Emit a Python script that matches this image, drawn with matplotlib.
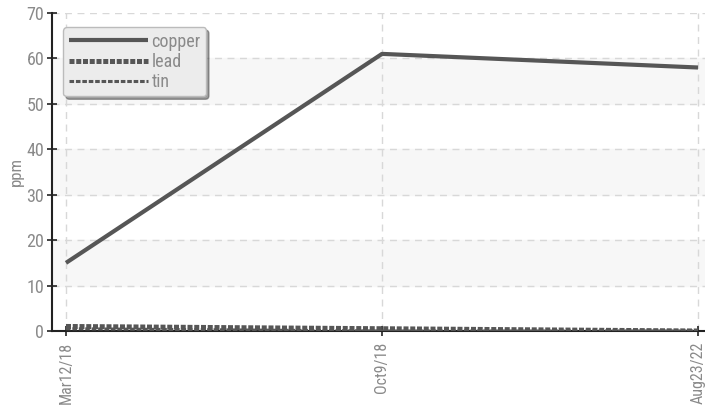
import matplotlib
matplotlib.use("Agg")
import matplotlib.pyplot as plt
from matplotlib import font_manager

dates = ["Mar12/18", "Oct9/18", "Aug23/22"]
copper = [15, 61, 58]
lead = [1, 0.5, 0]
tin = [0.5, 0, 0]

names = [f.name for f in font_manager.fontManager.ttflist]
fam = "Roboto Condensed" if "Roboto Condensed" in names else "Roboto"
plt.rcParams['font.family'] = [fam, 'DejaVu Sans']

txt = '#8a8a8a'
line_c = '#565656'

fig = plt.figure(figsize=(7.05, 4.13), dpi=100)
ax = fig.add_axes([52/705, 1 - 331/413, 1 - 52/705, (331 - 13)/413])

x = list(range(len(dates)))

# alternating bands
for lo in (10, 30, 50):
    ax.axhspan(lo, lo + 10, color='#f7f7f7', zorder=0)

ax.plot(x, copper, color=line_c, lw=3.0, solid_capstyle='butt', label='copper', zorder=3)
ax.plot(x, lead, color=line_c, lw=3.6, linestyle=(0, (1.0, 0.35)), label='lead', zorder=3)
ax.plot(x, tin, color=line_c, lw=2.2, linestyle=(0, (1.5, 0.6)), label='tin', zorder=3)

ax.set_xlim(-14/316, 2 + 7/316)
ax.set_ylim(0, 70)
ax.set_yticks(range(0, 71, 10))
ax.set_xticks(x)
ax.set_xticklabels(dates, rotation=90)

ax.grid(True, color='#d8d8d8', linestyle=(0, (5, 4)), lw=1)
ax.set_axisbelow(True)

for s in ('top', 'right'):
    ax.spines[s].set_visible(False)
ax.spines['left'].set_color('#222222')
ax.spines['bottom'].set_color('#222222')
ax.spines['left'].set_linewidth(1.5)
ax.spines['bottom'].set_linewidth(1.5)

ax.tick_params(axis='both', direction='inout', length=7, width=1.2, color='#222222',
               labelcolor=txt, labelsize=13)
ax.tick_params(axis='y', pad=2)
ax.tick_params(axis='x', pad=4, labelsize=11.5)

ax.set_ylabel('ppm', color=txt, fontsize=12, labelpad=2)

leg = ax.legend(loc='upper left', bbox_to_anchor=(0.017, 0.955), handlelength=4.4,
                handletextpad=0.2, labelspacing=0.12, fontsize=13, fancybox=True,
                shadow=True, framealpha=1, borderpad=0.3, borderaxespad=0)
leg.get_frame().set_facecolor('#ececec')
leg.get_frame().set_edgecolor('#bbbbbb')
for t in leg.get_texts():
    t.set_color(txt)

fig.savefig('out.png', dpi=100)
